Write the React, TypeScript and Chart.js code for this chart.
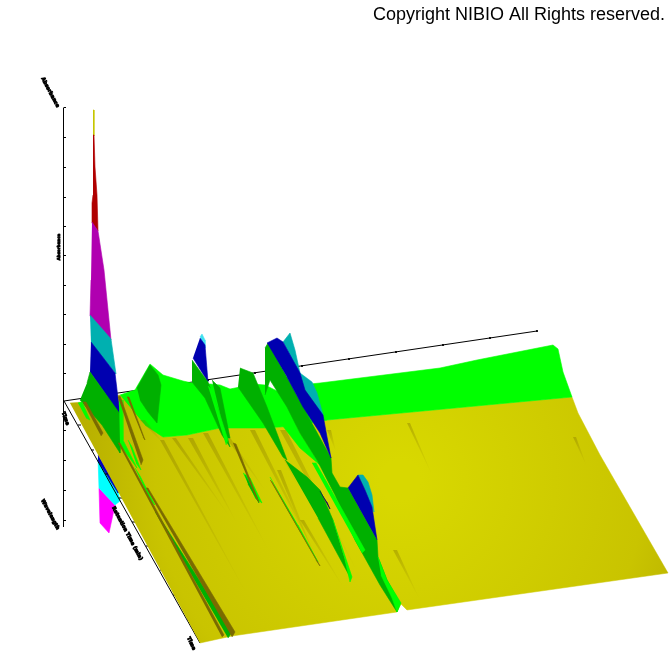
import React, { useEffect, useRef } from "react";
import { Chart, registerables } from "chart.js";

Chart.register(...registerables);

// Surface outlines, as flat x,y lists on a 0-672 projected scale.
const magentaFoot = [99, 488, 100, 523, 109, 533, 115, 505];
const cyanFoot = [98, 458, 99, 488, 115, 505, 120, 501, 118, 491];
const blueFoot = [98, 455, 118, 489, 118, 493, 98, 461];

const zAxis = [63.5, 108, 63.5, 527];
const backAxis = [64, 401, 537, 331];
const sideAxis = [64, 401, 200, 643];
const axisTicks = [
  63.5, 107.5, 66, 107.5, null, null, 63.5, 137.5, 66, 137.5, null, null, 63.5, 167.5, 66, 167.5, null, null,
  63.5, 197.5, 66, 197.5, null, null, 63.5, 226.5, 66, 226.5, null, null, 63.5, 255.5, 66, 255.5, null, null,
  63.5, 285.5, 66, 285.5, null, null, 63.5, 314.5, 66, 314.5, null, null, 63.5, 344.5, 66, 344.5, null, null,
  63.5, 373.5, 66, 373.5, null, null, 63.5, 430.5, 66, 430.5, null, null, 63.5, 460.5, 66, 460.5, null, null,
  63.5, 490.5, 66, 490.5, null, null, 63.5, 520.5, 66, 520.5, null, null,
  114, 393, 114, 395, null, null, 161, 386, 161, 388, null, null, 208, 379, 208, 381, null, null,
  255, 372, 255, 374, null, null, 302, 365, 302, 367, null, null, 349, 358, 349, 360, null, null,
  396, 351, 396, 353, null, null, 443, 344, 443, 346, null, null, 490, 337, 490, 339, null, null,
  537, 330, 537, 332, null, null,
  78, 425, 81, 425, null, null, 91, 450, 94, 450, null, null, 105, 474, 108, 474, null, null,
  119, 498, 122, 498, null, null, 132, 522, 135, 522, null, null, 146, 546, 149, 546, null, null,
  160, 570, 163, 570, null, null, 173, 595, 176, 595, null, null, 187, 619, 190, 619,
];

const yellowSurface = [
  70, 403, 85, 402, 120, 395, 163, 437, 187, 435, 220, 428, 263, 428, 280, 427, 327, 420, 572, 397,
  578, 413, 600, 455, 668, 573, 407, 610, 401, 604, 397, 612, 232, 636, 200, 643,
];
const greenPlateauRight = [
  300, 385, 320, 383, 400, 373, 440, 368, 477, 360, 553, 345, 558, 349, 563, 372, 572, 397, 327, 420, 310, 420,
];
const greenPlateauLeft = [
  120, 395, 135, 390, 150, 364, 163, 375, 183, 381, 192, 383, 210, 384, 220, 385, 230, 389, 240, 387, 253, 384,
  265, 385, 285, 395, 310, 405, 327, 420, 300, 425, 280, 427, 263, 428, 220, 428, 187, 435, 163, 437, 145, 425,
];
const darkHump = [137, 388, 150, 365, 158, 375, 161, 385, 157, 423, 148, 412, 140, 400];

const spikeYellow = [93, 110, 94, 110, 94, 136, 93, 136];
const spikeRed = [93, 135, 94, 135, 95, 167, 97, 195, 98, 231, 92, 223, 92, 203, 93, 195];
const bandMagenta = [92, 222, 98, 231, 104, 270, 111, 340, 90, 316, 91, 280];
const bandTeal = [90, 315, 111, 339, 116, 374, 91, 343];
const bandBlue = [91, 342, 115, 373, 120, 415, 90, 372];
const ridgeDark = [87, 383, 90, 372, 120, 414, 120, 453, 102, 425, 80, 400];

const leftPeakTip = [200, 337, 202, 334, 205, 340, 205, 348];
const leftPeakBlue = [200, 338, 205, 345, 208, 382, 193, 358];
const leftPeakDark = [192, 360, 208, 382, 222, 420, 230, 447, 222, 435, 205, 398, 192, 382];
const leftPeakSide = [212, 380, 220, 388, 230, 438, 226, 438];
const midRidgeDark = [240, 368, 253, 373, 267, 407, 287, 460, 283, 457, 263, 423, 238, 387];

const bigRidgeDark = [
  265, 348, 268, 343, 287, 377, 303, 407, 331, 458, 332, 473, 340, 487, 348, 488, 377, 540, 378, 557, 387, 580,
  400, 603, 397, 612, 380, 585, 355, 540, 335, 495, 317, 460, 300, 433, 287, 407, 270, 380, 265, 395,
];
const lowerLobeDark = [285, 460, 307, 477, 320, 490, 333, 520, 342, 550, 350, 577, 318, 518];
const bigRidgeTeal = [283, 342, 290, 333, 295, 350, 300, 373, 312, 382, 317, 393, 323, 415, 305, 390, 300, 375];
const bigRidgeBlue = [
  267, 343, 277, 338, 283, 342, 300, 373, 305, 390, 323, 415, 327, 437, 331, 458, 320, 433, 303, 407, 287, 377,
];
const lowerPeakTeal = [358, 475, 363, 475, 368, 482, 372, 495, 374, 512, 365, 490];
const lowerPeakBlue = [348, 488, 358, 475, 365, 490, 372, 507, 377, 540];
const lowerPocketBlue = [320, 491, 330, 509, 327, 502];

const ridgeLightEdge = [378, 557, 387, 580, 401, 603, 397, 612, 392, 598, 381, 575];
const ridgeLightInner = [312, 463, 316, 463, 365, 550, 362, 553];
const ridgeLightUpper = [265, 395, 287, 407, 300, 433, 320, 465, 300, 448, 282, 425];
const ridgeLightPeak = [208, 386, 212, 390, 228, 440, 226, 445];
const streakOne = [243, 473, 250, 478, 262, 503, 255, 498];
const streakTwo = [270, 477, 285, 505, 318, 562, 298, 525];
const streakDark = [245, 475, 257, 497, 259, 503, 248, 484];
const lobeLight = [333, 520, 352, 577, 350, 582, 345, 560];
const mainGreenLight = [119, 400, 122, 400, 123, 440, 137, 468, 120, 445];
const leftGreenLight = [78, 403, 82, 402, 90, 420, 86, 418];
const longGreen = [155, 512, 158, 515, 232, 632, 228, 638];
const longLight = [135, 468, 140, 476, 155, 505, 150, 500];
const tipGreen = [128, 440, 132, 447, 141, 470, 136, 463];

const brownLong = [118, 443, 120, 443, 224, 635, 222, 637];
const brownLongTwo = [146, 488, 148, 488, 235, 632, 232, 637];
const brownLeftOne = [83, 402, 86, 402, 103, 433, 101, 436];
const brownLeftTwo = [118, 397, 120, 396, 143, 460, 141, 465];
const brownLeftThree = [127, 397, 129, 397, 145, 440, 143, 437];
const brownMid = [233, 443, 236, 444, 259, 502, 256, 498];
const brownLobe = [270, 480, 272, 482, 320, 566, 316, 560];

const fadeStripes = [
  [188, 438, 193, 438, 239, 527],
  [203, 433, 208, 433, 270, 553],
  [220, 430, 225, 430, 267, 493],
  [250, 430, 255, 430, 320, 563],
  [268, 430, 272, 430, 300, 490],
  [277, 470, 281, 470, 320, 570],
  [280, 430, 286, 430, 360, 577],
  [160, 440, 164, 440, 250, 600],
  [172, 438, 176, 438, 232, 520],
  [140, 420, 145, 420, 165, 445],
  [300, 520, 304, 520, 345, 590],
  [393, 550, 397, 550, 420, 600],
  [407, 423, 410, 423, 433, 477],
  [327, 430, 331, 430, 336, 452],
  [573, 437, 576, 437, 587, 467],
];

const textLabels = [
  { text: "Copyright NIBIO All Rights reserved.", x: 665, y: 20, angle: 0, font: "18px 'Liberation Sans'", align: "right", weight: 0 },
  { text: "Absorbance", x: 49, y: 93, angle: 62, font: "bold 5px 'DejaVu Sans'", align: "center", weight: 0.9 },
  { text: "Absorbance", x: 60, y: 247, angle: -90, font: "bold 4px 'DejaVu Sans'", align: "center", weight: 0.9 },
  { text: "Time", x: 64, y: 419, angle: 70, font: "bold 5px 'DejaVu Sans'", align: "center", weight: 0.9 },
  { text: "Wavelength", x: 49, y: 515, angle: 62, font: "bold 5px 'DejaVu Sans'", align: "center", weight: 0.9 },
  { text: "Retention Time (min)", x: 126, y: 534, angle: 62, font: "bold 5px 'DejaVu Sans'", align: "center", weight: 0.9 },
  { text: "Time", x: 190, y: 644, angle: 65, font: "bold 5px 'DejaVu Sans'", align: "center", weight: 0.9 },
];

const GREEN = "#00ff00";
const DARK = "#00b000";
const BLUE = "#0000b0";
const TEAL = "#00b0b0";
const BROWN = "#7a6a00";

const toPoints = (flat: (number | null)[]) => {
  const out: { x: number | null; y: number | null }[] = [];
  for (let i = 0; i < flat.length; i += 2) out.push({ x: flat[i], y: flat[i + 1] });
  return out;
};

const shape = (pts: number[], color: any, edge = 0.6) => ({
  data: toPoints(pts),
  fill: "shape",
  backgroundColor: color,
  borderColor: color,
  borderWidth: edge,
  pointRadius: 0,
  tension: 0,
});
const stroke = (pts: (number | null)[]) => ({
  data: toPoints(pts),
  fill: false,
  borderColor: "#000000",
  borderWidth: 1,
  pointRadius: 0,
  tension: 0,
  spanGaps: false,
});

const textPlugin = {
  id: "textLabels",
  afterDraw(chart: any) {
    const { ctx, scales } = chart;
    textLabels.forEach((l) => {
      ctx.save();
      ctx.translate(scales.x.getPixelForValue(l.x), scales.y.getPixelForValue(l.y));
      ctx.rotate((l.angle * Math.PI) / 180);
      ctx.font = l.font;
      ctx.fillStyle = "#000000";
      ctx.strokeStyle = "#000000";
      ctx.textAlign = l.align;
      ctx.textBaseline = "alphabetic";
      if (l.weight) {
        ctx.lineWidth = l.weight;
        ctx.strokeText(l.text, 0, 0);
      }
      ctx.fillText(l.text, 0, 0);
      ctx.restore();
    });
  },
};

export default function App() {
  const ref = useRef<HTMLCanvasElement>(null);
  useEffect(() => {
    const canvas = ref.current!;
    const g = canvas.getContext("2d")!;
    const yellow = g.createRadialGradient(400, 480, 20, 400, 480, 320);
    yellow.addColorStop(0, "#d8d800");
    yellow.addColorStop(0.75, "#c9c400");
    yellow.addColorStop(1, "#b8b000");
    const fade = (s: number[]) => {
      const f = g.createLinearGradient(s[0], s[1], s[4], s[5]);
      f.addColorStop(0, "rgba(125,110,0,0.36)");
      f.addColorStop(1, "rgba(140,125,0,0)");
      return f;
    };

    const layers = [
      shape(magentaFoot, "#ff00ff"),
      shape(cyanFoot, "#00ffff"),
      shape(blueFoot, "#0000c0"),
      stroke(zAxis),
      stroke(backAxis),
      stroke(sideAxis),
      stroke(axisTicks),
      shape(yellowSurface, yellow, 0.5),
      shape(greenPlateauRight, GREEN),
      shape(greenPlateauLeft, GREEN),
      shape(darkHump, DARK),
      shape(spikeYellow, "#c8c800"),
      shape(spikeRed, "#b00000"),
      shape(bandMagenta, "#b000b0"),
      shape(bandTeal, TEAL),
      shape(bandBlue, BLUE),
      shape(ridgeDark, DARK),
      shape(mainGreenLight, GREEN),
      shape(leftGreenLight, GREEN),
      ...fadeStripes.map((s) => shape(s, fade(s), 0)),
      shape(leftPeakTip, "#40e0f0"),
      shape(leftPeakBlue, BLUE),
      shape(leftPeakDark, DARK),
      shape(leftPeakSide, DARK),
      shape(ridgeLightPeak, GREEN),
      shape(midRidgeDark, DARK),
      shape(ridgeLightUpper, GREEN),
      shape(bigRidgeDark, DARK),
      shape(lowerLobeDark, DARK),
      shape(bigRidgeTeal, TEAL),
      shape(bigRidgeBlue, BLUE),
      shape(lowerPeakTeal, TEAL),
      shape(lowerPeakBlue, BLUE),
      shape(lowerPocketBlue, "#000060"),
      shape(ridgeLightEdge, GREEN),
      shape(ridgeLightInner, GREEN),
      shape(lobeLight, GREEN),
      shape(streakOne, GREEN),
      shape(streakTwo, GREEN),
      shape(streakDark, DARK),
      shape(longGreen, DARK),
      shape(longLight, GREEN),
      shape(tipGreen, GREEN),
      shape(brownLong, BROWN),
      shape(brownLongTwo, BROWN),
      shape(brownLeftOne, BROWN),
      shape(brownLeftTwo, BROWN),
      shape(brownLeftThree, BROWN),
      shape(brownMid, BROWN),
      shape(brownLobe, BROWN),
    ];

    const chart = new Chart(canvas, {
      type: "line",
      data: { datasets: layers.slice().reverse() as any },
      options: {
        animation: false,
        responsive: false,
        layout: { padding: 0 },
        normalized: false,
        plugins: { legend: { display: false }, title: { display: false }, tooltip: { enabled: false } },
        scales: {
          x: { type: "linear", min: 0, max: 672, display: false },
          y: { type: "linear", min: 0, max: 672, reverse: true, display: false },
        },
      },
      plugins: [textPlugin],
    } as any);
    return () => chart.destroy();
  }, []);
  return (
    <canvas
      ref={ref}
      width={672}
      height={672}
      style={{ position: "fixed", left: 0, top: 0, width: 672, height: 672, background: "#fff" }}
    />
  );
}
